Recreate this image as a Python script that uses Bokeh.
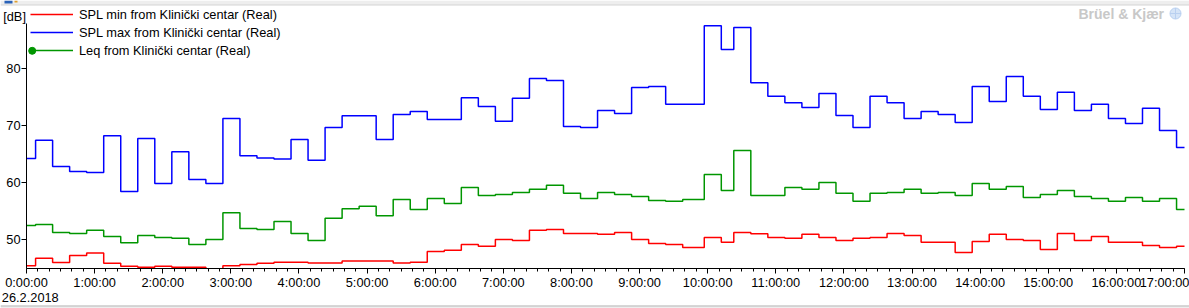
from bokeh.plotting import figure
from bokeh.models import FixedTicker, Legend, LegendItem, Label, LinearAxis, BoxAnnotation
from bokeh.embed import file_html
from bokeh.resources import INLINE

# ---- data ----
start_times = ["0:00", "0:08", "0:23", "0:38", "0:53", "1:08", "1:23", "1:38", "1:53", "2:08",
               "2:23", "2:38", "2:53", "3:08", "3:23", "3:38", "3:53", "4:08", "4:23", "4:38",
               "4:53", "5:08", "5:23", "5:38", "5:53", "6:08", "6:23", "6:38", "6:53", "7:08",
               "7:23", "7:38", "7:53", "8:08", "8:23", "8:38", "8:53", "9:08", "9:23", "9:38",
               "9:57", "10:12", "10:23", "10:38", "10:53", "11:08", "11:23", "11:38", "11:53", "12:08",
               "12:23", "12:38", "12:53", "13:08", "13:23", "13:38", "13:53", "14:08", "14:23", "14:38",
               "14:53", "15:08", "15:23", "15:38", "15:53", "16:08", "16:23", "16:38", "16:53"]
end_time = "17:00"

spl_max = [64.2, 67.4, 62.8, 61.9, 61.75, 68.2, 58.4, 67.7, 59.8, 65.4,
           60.5, 59.8, 71.2, 64.7, 64.3, 64.1, 67.55, 63.9, 69.65, 71.7,
           71.7, 67.55, 71.9, 72.45, 71.05, 71.05, 74.85, 73.3, 70.75, 74.75,
           78.25, 77.9, 69.8, 69.65, 72.6, 72.1, 76.65, 76.85, 73.7, 73.7,
           87.5, 83.3, 87.2, 77.5, 75.1, 74.0, 73.15, 75.6, 71.75, 69.65,
           75.1, 74.0, 71.2, 72.45, 71.9, 70.5, 76.85, 74.2, 78.6, 75.1,
           72.8, 75.8, 72.6, 73.7, 71.2, 70.35, 73.0, 69.1, 66.15]

leq = [52.45, 52.6, 51.2, 51.05, 51.6, 50.5, 49.4, 50.7, 50.35, 50.2,
       49.1, 50.0, 54.7, 51.9, 51.75, 53.15, 51.05, 49.8, 53.7, 55.4,
       55.8, 54.15, 57.0, 55.25, 57.2, 56.3, 59.1, 57.7, 57.9, 58.25,
       58.8, 59.5, 58.1, 57.2, 58.25, 57.9, 57.55, 56.85, 56.7, 57.0,
       61.4, 58.6, 65.6, 57.7, 57.7, 59.1, 58.8, 60.0, 58.1, 56.7,
       58.1, 58.25, 58.8, 58.1, 58.25, 57.7, 59.8, 58.8, 59.3, 57.35,
       57.9, 58.6, 57.55, 57.2, 56.7, 57.35, 56.7, 57.2, 55.25]

spl_min = [45.4, 46.7, 45.95, 47.2, 47.6, 45.8, 45.3, 45.1, 45.3, 45.1,
           45.1, 44.5, 45.4, 45.6, 45.8, 46.0, 46.0, 45.85, 45.85, 46.2,
           46.2, 46.2, 45.85, 46.0, 47.9, 48.1, 49.1, 48.8, 50.0, 49.8,
           51.6, 51.75, 51.05, 51.05, 50.9, 51.2, 50.0, 49.3, 49.1, 48.6,
           50.35, 49.5, 51.2, 51.0, 50.35, 50.2, 50.9, 50.35, 49.8, 50.2,
           50.35, 51.05, 50.7, 49.5, 49.5, 47.7, 49.65, 50.9, 50.0, 49.8,
           48.25, 51.05, 49.8, 50.5, 49.5, 49.5, 48.95, 48.6, 48.8]

x_hours = list(range(18))
x_tick_labels = ["%d:00:00" % h for h in x_hours]
y_ticks = [50, 60, 70, 80]
series_names = ["SPL min from Klinički centar (Real)",
                "SPL max from Klinički centar (Real)",
                "Leq from Klinički centar (Real)"]
series_colors = ["#ff0000", "#0000ff", "#009600"]
date_text = "26.2.2018"
unit_text = "[dB]"
brand_text = "Brüel & Kjær"

# ---- layout constants (pixels) ----
W, H = 1189, 308
PX_LEFT, PX_RIGHT = 26.0, 1184.0      # x of 0:00 and 17:00
PY_TOP, PY_BOTTOM = 23.0, 268.0       # y of plot-area top / x-axis line
X0, X1 = 0.0, 17.0                    # visible hours
Y_PER_PX = 10.0 / 57.0                # dB per pixel
Y_BOTTOM = 44.9                       # dB at x-axis line
Y_TOP = Y_BOTTOM + (PY_BOTTOM - PY_TOP) * Y_PER_PX
TXT_SHIFT = 5.0                       # correction for label baseline placement

FONT = "Liberation Sans"
FSIZE = "12.8px"


def to_hours(t):
    h, m = t.split(":")
    return int(h) + int(m) / 60.0


hx = (X1 - X0) / (PX_RIGHT - PX_LEFT)
x_range = (X0 - PX_LEFT * hx, X1 + (W - PX_RIGHT) * hx)
y_range = (Y_BOTTOM - (H - PY_BOTTOM) * Y_PER_PX, Y_TOP + PY_TOP * Y_PER_PX)


def px_to_x(px):
    return x_range[0] + px * hx


def py_to_y(py):
    return y_range[1] - py * Y_PER_PX


xs = [to_hours(t) for t in start_times] + [to_hours(end_time)]

p = figure(width=W, height=H, output_backend="svg", toolbar_location=None,
           x_range=x_range, y_range=y_range, x_axis_type=None, y_axis_type=None,
           min_border_left=0, min_border_right=0, min_border_top=0, min_border_bottom=0)
p.background_fill_color = "white"
p.border_fill_color = "white"
p.outline_line_color = None

xaxis = LinearAxis(fixed_location=Y_BOTTOM, bounds=(X0, X1),
                   ticker=FixedTicker(ticks=x_hours, minor_ticks=[i / 6.0 for i in range(17 * 6 + 1)]),
                   major_label_overrides={h: lbl for h, lbl in zip(x_hours, x_tick_labels)})
yaxis = LinearAxis(fixed_location=X0, bounds=(Y_BOTTOM, Y_TOP),
                   ticker=FixedTicker(ticks=y_ticks, minor_ticks=[]))
p.add_layout(xaxis, "below")
p.add_layout(yaxis, "left")
for ax in (xaxis, yaxis):
    ax.axis_line_color = "black"
    ax.major_tick_line_color = "black"
    ax.minor_tick_line_color = "black"
    ax.major_tick_out = 5
    ax.major_tick_in = 0
    ax.minor_tick_out = 3
    ax.minor_tick_in = 0
    ax.major_label_text_font = FONT
    ax.major_label_text_font_size = FSIZE
    ax.major_label_text_color = "black"
    ax.major_label_standoff = 1

p.xgrid.ticker = xaxis.ticker
p.ygrid.ticker = yaxis.ticker
p.xgrid.grid_line_color = "#c6c6c6"
p.ygrid.grid_line_color = "#c6c6c6"

# keep grid lines inside the plot area
for kw in (dict(bottom=Y_TOP), dict(right=X0), dict(left=X1)):
    p.add_layout(BoxAnnotation(fill_color="white", fill_alpha=1, line_alpha=0, level="underlay", **kw))

# window chrome: thin grey strip on top, grey line at the bottom
p.add_layout(BoxAnnotation(bottom=py_to_y(4.5), fill_color="#eeeeee", fill_alpha=1,
                           line_alpha=0, level="underlay"))
p.add_layout(BoxAnnotation(bottom=py_to_y(5.0), top=py_to_y(4.0), fill_color="#d4d4d4", fill_alpha=1,
                           line_alpha=0, level="underlay"))
p.add_layout(BoxAnnotation(bottom=py_to_y(3.0), left=px_to_x(4.0), right=px_to_x(12.0),
                           fill_color="#2a62b8", fill_alpha=1, line_alpha=0, level="underlay"))
p.add_layout(BoxAnnotation(bottom=py_to_y(2.0), left=px_to_x(14.0), right=px_to_x(17.0),
                           fill_color="#e0a030", fill_alpha=1, line_alpha=0, level="underlay"))
p.add_layout(BoxAnnotation(top=py_to_y(305.0), fill_color="#eeeeee", fill_alpha=1,
                           line_alpha=0, level="overlay"))
p.add_layout(BoxAnnotation(top=py_to_y(305.0), bottom=py_to_y(306.0), fill_color="#b8b8b8", fill_alpha=1,
                           line_alpha=0, level="overlay"))

renderers = []
for vals, col in zip([spl_min, spl_max, leq], series_colors):
    r = p.step(xs, vals + [vals[-1]], mode="after", line_color=col, line_width=1.5)
    renderers.append(r)

# hide anything below the x-axis line (values below the visible range)
p.add_layout(BoxAnnotation(top=Y_BOTTOM, fill_color="white", fill_alpha=1, line_alpha=0, level="glyph"))

legend = Legend(items=[LegendItem(label=n, renderers=[r]) for n, r in zip(series_names, renderers)],
                location=(30, H - 59.3), orientation="vertical",
                border_line_color=None, background_fill_alpha=0,
                label_text_font=FONT, label_text_font_size=FSIZE, label_text_color="black",
                glyph_width=43, glyph_height=18, label_height=18, spacing=0,
                padding=0, margin=0, label_standoff=6)
p.add_layout(legend)

# point marker at the start of the Leq legend entry
p.scatter(x=[px_to_x(31.7)], y=[py_to_y(50.3)], marker="circle", size=7,
          fill_color=series_colors[2], line_color=series_colors[2], level="overlay")

# faint brand logo
p.scatter(x=[px_to_x(1175.0)], y=[py_to_y(13.0)], marker="circle_cross", size=11,
          fill_color="#d5e4f7", line_color="#b9d0f0", level="overlay")

p.add_layout(Label(x=1.3, y=H - 301.5 + TXT_SHIFT, x_units="screen", y_units="screen", text=date_text,
                   text_font=FONT, text_font_size=FSIZE, text_color="black",
                   text_baseline="alphabetic", text_align="left"))
p.add_layout(Label(x=2.7, y=H - 20.5 + TXT_SHIFT, x_units="screen", y_units="screen", text=unit_text,
                   text_font=FONT, text_font_size=FSIZE, text_color="black",
                   text_baseline="alphabetic", text_align="left"))
p.add_layout(Label(x=1078, y=H - 18 + TXT_SHIFT, x_units="screen", y_units="screen", text=brand_text,
                   text_font=FONT, text_font_size="14px", text_font_style="bold",
                   text_color="#c8c8c8", text_baseline="alphabetic", text_align="left"))

open("out.html", "w").write(file_html(p, INLINE))
